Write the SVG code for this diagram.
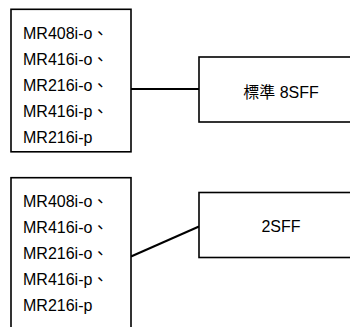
<svg xmlns="http://www.w3.org/2000/svg" width="350" height="327" viewBox="0 0 350 327">
<style>
.box{fill:#fff;stroke:#000;stroke-width:1.6}
.t{font-family:"Liberation Sans","Noto Sans CJK TC",Arial,sans-serif;font-size:16px;fill:#000}
.c{text-anchor:middle}
.con{stroke:#000;stroke-width:2;fill:none}
</style>
<rect width="350" height="327" fill="#fff"/>
<g id="connectors">
<line class="con" x1="131" y1="89" x2="199" y2="89"/>
<line class="con" x1="131" y1="256.5" x2="199" y2="226.5"/>
</g>
<g id="models1">
<rect class="box" x="11" y="9.3" width="120" height="142.5"/>
<text class="t" x="23" y="38.5">MR408i-o、</text>
<text class="t" x="23" y="64.5">MR416i-o、</text>
<text class="t" x="23" y="90.5">MR216i-o、</text>
<text class="t" x="23" y="116.5">MR416i-p、</text>
<text class="t" x="23" y="142.5">MR216i-p</text>
</g>
<g id="sff8">
<rect class="box" x="199" y="57" width="165" height="65"/>
<text class="t c" x="281" y="98">標準 8SFF</text>
</g>
<g id="models2">
<rect class="box" x="11" y="177.7" width="120" height="160"/>
<text class="t" x="23" y="207">MR408i-o、</text>
<text class="t" x="23" y="233">MR416i-o、</text>
<text class="t" x="23" y="259">MR216i-o、</text>
<text class="t" x="23" y="285">MR416i-p、</text>
<text class="t" x="23" y="311">MR216i-p</text>
</g>
<g id="sff2">
<rect class="box" x="199" y="192.5" width="165" height="65"/>
<text class="t c" x="281" y="232">2SFF</text>
</g>
</svg>
